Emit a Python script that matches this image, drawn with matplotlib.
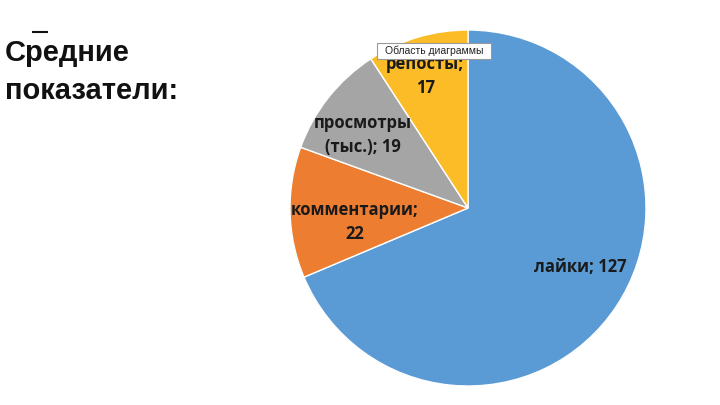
import matplotlib
matplotlib.use("Agg")
import matplotlib.pyplot as plt
from matplotlib.lines import Line2D
from matplotlib.patches import FancyBboxPatch

categories = ["лайки", "комментарии", "просмотры\n(тыс.)", "репосты"]
values = [127, 22, 19, 17]
label_texts = ["лайки; 127", "комментарии;\n22", "просмотры\n(тыс.); 19", "репосты;\n17"]
colors = ["#5B9BD5", "#ED7D31", "#A5A5A5", "#FBBC28"]
label_pos = [(0.63, -0.33), (-0.635, -0.08), (-0.59, 0.41), (-0.24, 0.74)]

W, H = 720, 405
fig = plt.figure(figsize=(7.2, 4.05), dpi=100)
fig.patch.set_facecolor("white")

cx, cy, r = 468, 208, 178
ax = fig.add_axes([(cx - r) / W, (H - cy - r) / H, 2 * r / W, 2 * r / H])
ax.pie(values, colors=colors, startangle=90, counterclock=False,
       wedgeprops=dict(edgecolor="white", linewidth=1.0), radius=1)
ax.set_xlim(-1, 1)
ax.set_ylim(-1, 1)
ax.set_aspect("equal")
ax.axis("off")

for txt, (x, y) in zip(label_texts, label_pos):
    ax.text(x, y, txt, ha="center", va="center", fontsize=12, fontweight="bold",
            family=["Open Sans", "DejaVu Sans"], color="#1a1a1a", linespacing=1.45)

# title
fig.text(5 / W, 1 - 53 / H, "Средние", ha="left", va="center", fontsize=21,
         fontweight="bold", family=["Liberation Sans", "DejaVu Sans"], color="#111111")
fig.text(5 / W, 1 - 91 / H, "показатели:", ha="left", va="center", fontsize=21,
         fontweight="bold", family=["Liberation Sans", "DejaVu Sans"], color="#111111")
fig.add_artist(Line2D([33 / W, 47 / W], [1 - 32 / H, 1 - 32 / H], color="#111111", lw=1.5))

# tooltip
bx0, by0, bx1, by1 = 377, 43, 491, 59
fig.add_artist(FancyBboxPatch((bx0 / W, 1 - by1 / H), (bx1 - bx0) / W, (by1 - by0) / H,
                              boxstyle="square,pad=0", facecolor="white",
                              edgecolor="#9a9a9a", linewidth=0.8, transform=fig.transFigure))
fig.text((bx0 + bx1) / 2 / W, 1 - (by0 + by1) / 2 / H, "Область диаграммы",
         ha="center", va="center", fontsize=7.5, family=["Liberation Sans", "DejaVu Sans"],
         color="#222222")

fig.savefig("out.png", dpi=100, facecolor="white")
